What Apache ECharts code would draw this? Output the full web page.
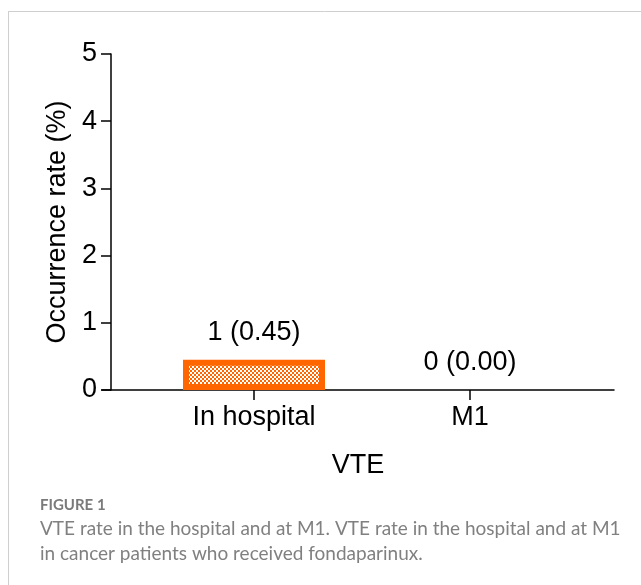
<!DOCTYPE html>
<html>
<head>
<meta charset="utf-8">
<script src="https://cdn.jsdelivr.net/npm/echarts@6/dist/echarts.min.js"></script>
<style>
  html, body { margin: 0; padding: 0; background: #fff; }
  #main { width: 641px; height: 585px; }
</style>
</head>
<body>
<div id="main"></div>
<script>
// chart data
var categories = ['In hospital', 'M1'];
var counts = [1, 0];
var rates = [0.45, 0.00];
var yTicks = [0, 1, 2, 3, 4, 5];

var orange = '#FF6600';

// checkered fill like the original figure
function makePattern() {
    var c = document.createElement('canvas');
    c.width = 4;
    c.height = 4;
    var ctx = c.getContext('2d');
    ctx.fillStyle = '#ffffff';
    ctx.fillRect(0, 0, 4, 4);
    ctx.fillStyle = orange;
    ctx.fillRect(0, 0, 2, 2);
    ctx.fillRect(2, 2, 2, 2);
    return c;
}

var myChart = echarts.init(document.getElementById('main'));
var font = '"Liberation Sans", Arial, sans-serif';

var barData = rates.map(function (v, i) {
    var item = { value: [i, v] };
    if (v === 0) item.itemStyle = { borderWidth: 0 };
    return item;
});

var option = {
    animation: false,
    backgroundColor: '#ffffff',
    grid: { left: 102, right: 27, top: 54, bottom: 195 },
    xAxis: {
        type: 'value',
        min: -0.7037,
        max: 1.6667,
        name: 'VTE',
        nameLocation: 'middle',
        nameGap: 62,
        nameTextStyle: { color: '#000', fontSize: 27, fontFamily: font },
        axisLine: { onZero: false, lineStyle: { color: '#000', width: 1.5 } },
        axisTick: { show: true, length: 10, customValues: [0, 1], lineStyle: { color: '#000', width: 1.5 } },
        axisLabel: {
            customValues: [0, 1],
            margin: 14,
            color: '#000',
            fontSize: 27,
            fontFamily: font,
            formatter: function (v) { return categories[Math.round(v)] || ''; }
        },
        splitLine: { show: false }
    },
    yAxis: {
        type: 'value',
        min: yTicks[0],
        max: yTicks[yTicks.length - 1],
        interval: 1,
        offset: -9,
        name: 'Occurrence rate (%)',
        nameLocation: 'middle',
        nameGap: 33,
        nameTextStyle: { color: '#000', fontSize: 27, fontFamily: font },
        axisLine: { show: true, onZero: false, lineStyle: { color: '#000', width: 1.5 } },
        axisTick: { show: true, length: 10, lineStyle: { color: '#000', width: 1.5 } },
        axisLabel: { margin: 14, color: '#000', fontSize: 27, fontFamily: font },
        splitLine: { show: false }
    },
    series: [{
        type: 'bar',
        barWidth: 142,
        data: barData,
        itemStyle: {
            color: { image: makePattern(), repeat: 'repeat' },
            borderColor: orange,
            borderWidth: 6
        },
        label: {
            show: true,
            position: 'top',
            distance: 14,
            color: '#000',
            fontSize: 27,
            fontFamily: font,
            formatter: function (p) {
                return counts[p.dataIndex] + ' (' + rates[p.dataIndex].toFixed(2) + ')';
            }
        }
    }],
    graphic: [
        { type: 'line', shape: { x1: 8.5, y1: 11, x2: 8.5, y2: 585 }, style: { stroke: '#cfcfcf', lineWidth: 1 } },
        { type: 'line', shape: { x1: 8, y1: 11.5, x2: 641, y2: 11.5 }, style: { stroke: '#cfcfcf', lineWidth: 1 } },
        { type: 'text', left: 40, top: 498, style: { text: 'FIGURE 1', fill: '#7a7a7a', font: 'bold 15px Lato, "Open Sans", sans-serif' } },
        { type: 'text', left: 40, top: 519, style: { text: 'VTE rate in the hospital and at M1. VTE rate in the hospital and at M1', fill: '#808080', font: '19px Lato, "Open Sans", sans-serif' } },
        { type: 'text', left: 40, top: 544, style: { text: 'in cancer patients who received fondaparinux.', fill: '#808080', font: '19px Lato, "Open Sans", sans-serif' } }
    ]
};

myChart.setOption(option);
</script>
</body>
</html>
